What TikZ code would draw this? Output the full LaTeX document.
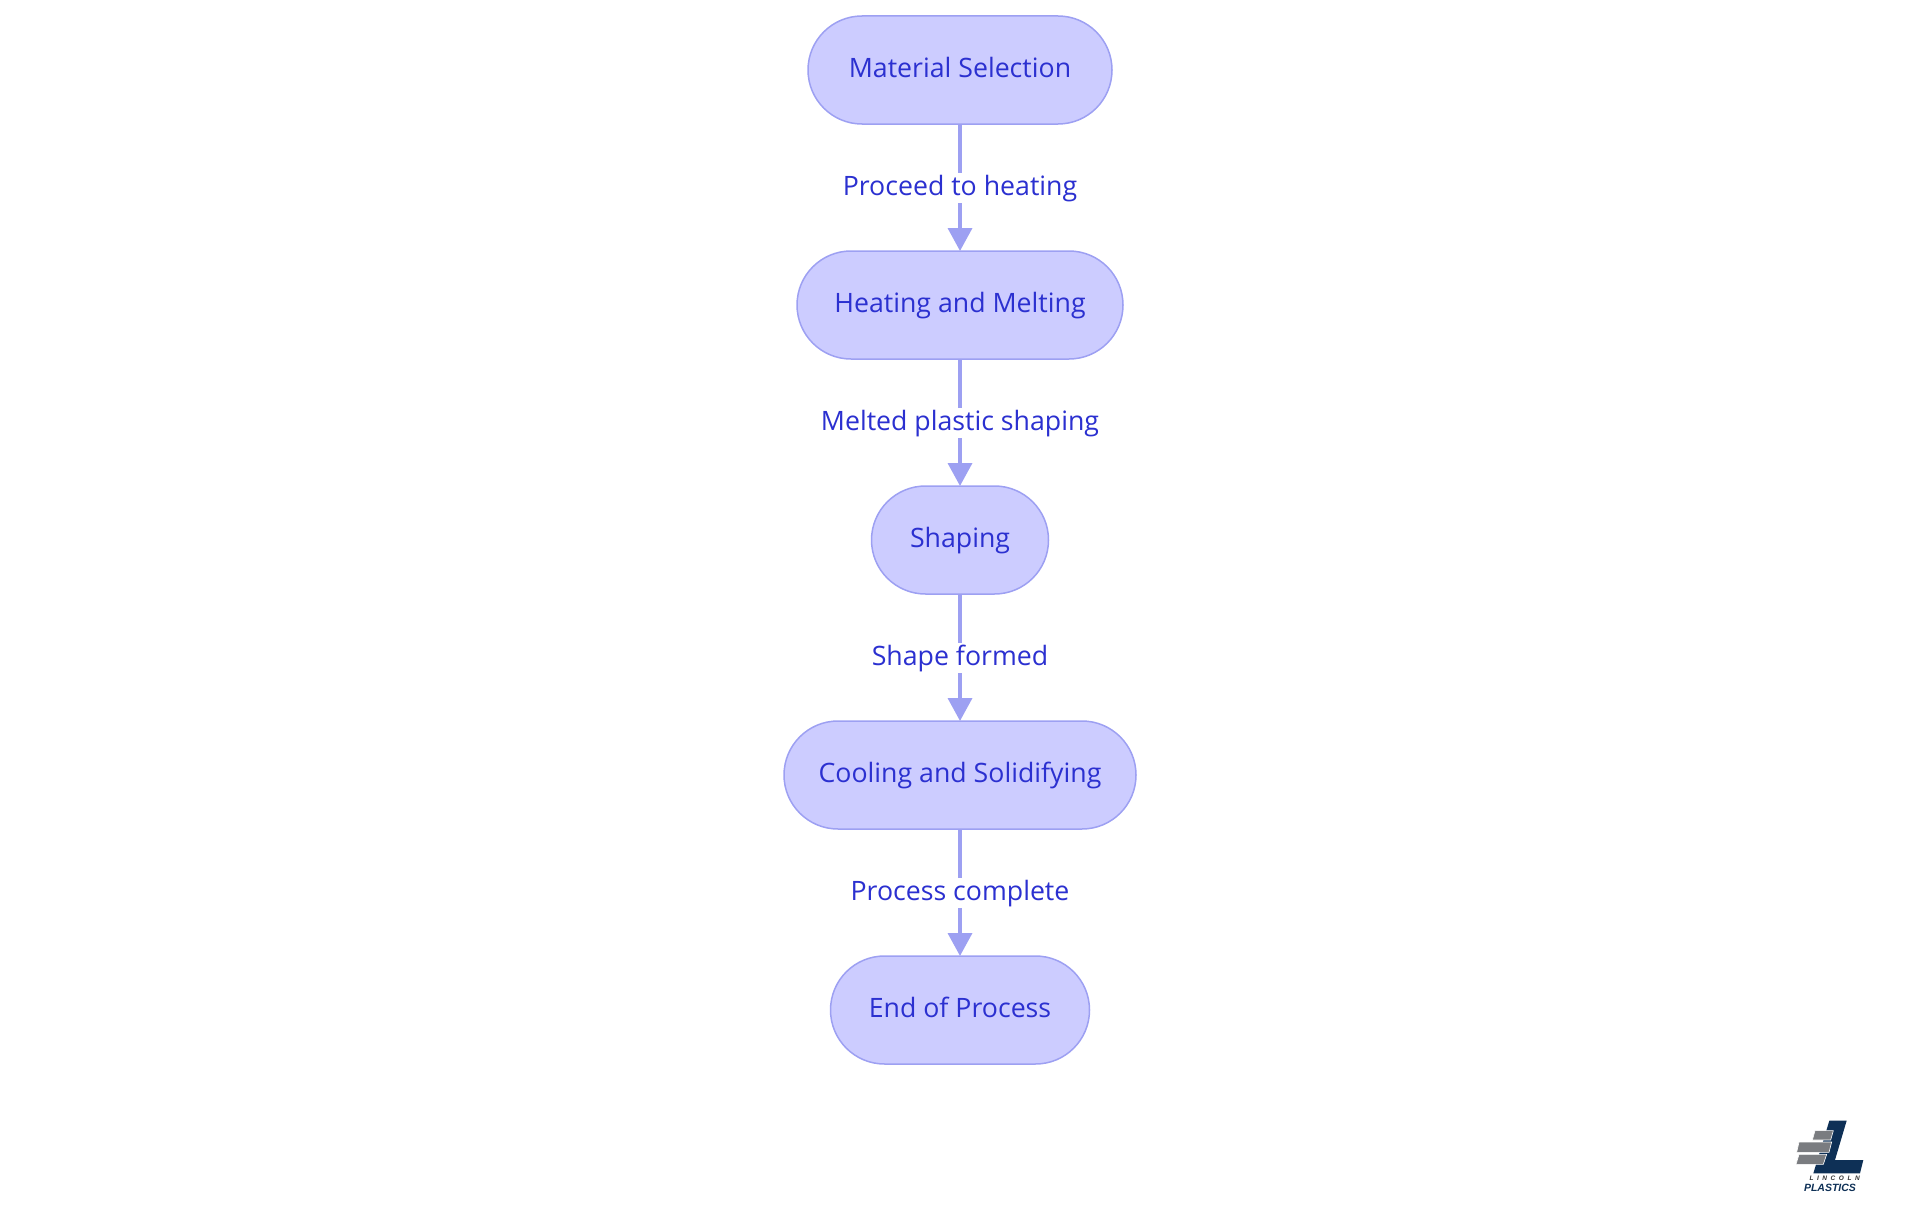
\documentclass[tikz,border=0pt]{standalone}
\usepackage{fontspec}
\setmainfont{Open Sans}
\newfontfamily\logofont{Liberation Sans}
\newfontfamily\logospaced[LetterSpace=55]{Liberation Sans}
\usetikzlibrary{
  arrows.meta,
  positioning,
  shapes.misc,
}
\definecolor{lp_fill}{RGB}{204,204,255}
\definecolor{lp_line}{RGB}{157,160,242}
\definecolor{lp_text}{RGB}{43,48,208}
\definecolor{lp_navy}{RGB}{14,48,86}
\definecolor{lp_gray}{RGB}{122,124,128}
\tikzset{
  >={Triangle[width=24pt,length=23pt]},
  stagebox/.style={
    rounded rectangle, draw=lp_line, fill=lp_fill, line width=1.5pt,
    minimum height=108pt, minimum width=#1, inner sep=0pt, outer sep=0pt,
    text=lp_text, font=\fontsize{26.7}{30}\selectfont, text height=20pt, text depth=5pt,
  },
  stagelabel/.style={
    fill=white, text=lp_text, inner xsep=1pt, inner ysep=2.5pt,
    font=\fontsize{26.7}{30}\selectfont, text height=20pt, text depth=5pt,
  },
  flowline/.style={->, draw=lp_line, line width=3.6pt},
}
\begin{document}
\begin{tikzpicture}[x=1pt,y=1pt,node distance=127pt]
    \useasboundingbox (0,0) rectangle (1920,-1215);
    % the five stages, top to bottom
    \node[stagebox=304pt] (selection) at (960,-70) {Material Selection};
    \node[stagebox=326pt, below=of selection] (heating) {Heating and Melting};
    \node[stagebox=177pt, below=of heating] (shaping) {Shaping};
    \node[stagebox=352pt, below=of shaping] (cooling) {Cooling and Solidifying};
    \node[stagebox=259pt, below=of cooling] (finish) {End of Process};

    % connectors with their labels
    \foreach \from/\to/\steptext in {
      selection/heating/Proceed to heating,
      heating/shaping/Melted plastic shaping,
      shaping/cooling/Shape formed,
      cooling/finish/Process complete%
    } {
      \draw[flowline] (\from) -- node[stagelabel] {\steptext} (\to);
    }

    % logo, coordinates in the pixels of a 3x crop
    \begin{scope}[shift={(1780,-1105)}, x=0.3333pt, y=-0.3333pt]
      \fill[lp_navy] (148,47) -- (200,47) -- (165,165) -- (250,165) -- (240,205) -- (100,205) -- cycle;
      \draw[fill=lp_gray, draw=white, line width=0.6pt] (105,77) -- (160,77) -- (152,105) -- (97,105) -- cycle;
      \draw[fill=lp_gray, draw=white, line width=0.6pt] (57,111) -- (155,111) -- (147,142) -- (50,142) -- cycle;
      \draw[fill=lp_gray, draw=white, line width=0.6pt] (57,148) -- (140,148) -- (130,178) -- (48,178) -- cycle;
      \node[text=lp_gray!40!black, inner sep=0pt, font=\logospaced\bfseries\itshape\fontsize{6.5}{7}\selectfont] (logotop) at (164,220) {LINCOLN};
      \node[text=lp_navy, inner sep=0pt, font=\logofont\bfseries\itshape\fontsize{10.5}{12}\selectfont] (logobottom) at (150,250) {PLASTICS};
    \end{scope}
\end{tikzpicture}
\end{document}
